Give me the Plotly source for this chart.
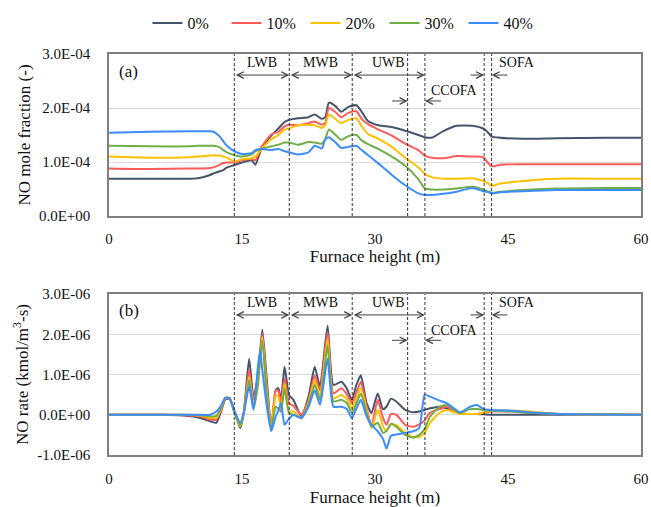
import plotly.graph_objects as go

# ---------------- data ----------------
SERIES = ["0%", "10%", "20%", "30%", "40%"]
COLORS = ["#44546A", "#FF5A5A", "#FFC000", "#70AD47", "#3C8CFF"]

# panel (a): NO mole fraction, values in units of 1E-04
X_A = [0, 4.6, 9.1, 10.0, 11.4, 11.8, 12.5, 12.9, 13.3, 14.1,
       15.0, 16.1, 16.5, 17.2, 18.3, 19.1, 19.8, 20.3, 21.3, 22.5,
       23.2, 24.0, 24.4, 24.8, 25.5, 26.2, 27.0, 27.9, 28.5, 29.2,
       30.4, 31.9, 33.4, 34.9, 35.6, 36.4, 37.7, 39.2, 41.0, 42.2,
       42.6, 43.2, 44.1, 46.7, 50.5, 56.1, 60]
NO_0 = [0.69, 0.69, 0.69, 0.70, 0.76, 0.79, 0.83, 0.85, 0.90, 0.94,
        0.99, 1.03, 0.95, 1.25, 1.49, 1.62, 1.74, 1.78, 1.81, 1.83,
        1.88, 1.80, 1.83, 2.10, 2.04, 1.93, 2.02, 2.05, 1.93, 1.76,
        1.68, 1.65, 1.58, 1.50, 1.46, 1.45, 1.57, 1.67, 1.67, 1.62,
        1.57, 1.47, 1.45, 1.43, 1.44, 1.45, 1.45]
NO_10 = [0.88, 0.87, 0.88, 0.88, 0.89, 0.90, 0.95, 0.98, 0.99, 0.99,
         1.03, 1.06, 1.03, 1.28, 1.51, 1.56, 1.66, 1.69, 1.68, 1.72,
         1.75, 1.69, 1.73, 2.00, 1.93, 1.83, 1.91, 1.94, 1.80, 1.70,
         1.60, 1.49, 1.34, 1.22, 1.12, 1.08, 1.07, 1.11, 1.10, 1.09,
         1.01, 0.92, 0.95, 0.96, 0.96, 0.96, 0.96]
NO_20 = [1.10, 1.08, 1.09, 1.10, 1.12, 1.12, 1.12, 1.10, 1.08, 1.01,
         1.05, 1.07, 1.10, 1.24, 1.42, 1.50, 1.60, 1.62, 1.68, 1.69,
         1.68, 1.63, 1.68, 1.88, 1.80, 1.72, 1.78, 1.81, 1.66, 1.52,
         1.43, 1.28, 1.08, 0.90, 0.78, 0.72, 0.69, 0.69, 0.70, 0.65,
         0.62, 0.56, 0.60, 0.65, 0.69, 0.69, 0.69]
NO_30 = [1.30, 1.29, 1.29, 1.30, 1.30, 1.30, 1.27, 1.22, 1.18, 1.13,
         1.10, 1.14, 1.20, 1.24, 1.29, 1.32, 1.36, 1.36, 1.32, 1.37,
         1.36, 1.34, 1.43, 1.60, 1.51, 1.41, 1.48, 1.50, 1.40, 1.33,
         1.24, 1.10, 0.93, 0.68, 0.51, 0.49, 0.49, 0.51, 0.54, 0.49,
         0.46, 0.43, 0.45, 0.48, 0.51, 0.52, 0.52]
NO_40 = [1.54, 1.56, 1.57, 1.57, 1.57, 1.56, 1.47, 1.38, 1.30, 1.20,
         1.15, 1.17, 1.22, 1.24, 1.22, 1.24, 1.20, 1.18, 1.14, 1.18,
         1.30, 1.25, 1.42, 1.46, 1.37, 1.26, 1.28, 1.30, 1.22, 1.13,
         0.97, 0.76, 0.57, 0.42, 0.39, 0.39, 0.41, 0.45, 0.52, 0.46,
         0.45, 0.42, 0.44, 0.46, 0.48, 0.48, 0.48]

# panel (b): NO rate, values in units of 1E-06
X_B = [0, 6.0, 8.4, 10.3, 11.4, 12.1, 12.7, 13.1, 13.6, 14.1,
       14.8, 15.2, 15.8, 16.3, 16.8, 17.05, 17.3, 17.8, 18.3, 18.8,
       19.1, 19.4, 19.8, 20.3, 20.8, 21.7, 22.5, 23.2, 23.8, 24.65,
       25.3, 26.2, 26.8, 27.4, 27.9, 28.4, 29.05, 29.6, 30.3, 30.9,
       31.3, 31.8, 32.4, 33.4, 34.3, 35.0, 35.6, 36.2, 37.3, 38.1,
       39.6, 40.7, 41.5, 42.3, 43.1, 45.6, 47.4, 50.8, 60]
RATE_0 = [0, 0, -0.02, -0.08, -0.16, -0.20, 0.12, 0.38, 0.40, 0.12,
          -0.33, 0.04, 1.39, 0.41, 1.0, 1.6, 2.11, 0.86, -0.37, 0.61,
          0.66, 0.37, 1.19, 0.49, 0.37, -0.04, 0.45, 1.19, 0.70, 2.21,
          0.74, 0.82, 0.66, 0.37, 0.74, 0.98, 0.29, 0.04, 0.53, 0.14,
          0.20, 0.40, 0.33, 0.12, 0.06, 0.08, 0.12, 0.16, 0.20, 0.16,
          0.04, 0.02, 0.02, 0.01, 0.0, 0, 0, 0, 0]
RATE_10 = [0, 0, -0.01, -0.04, -0.12, -0.12, 0.15, 0.40, 0.40, 0.12,
           -0.29, 0.05, 1.11, 0.37, 0.9, 1.5, 2.01, 0.70, -0.33, 0.60,
           0.60, 0.29, 0.90, 0.29, 0.22, 0.0, 0.35, 0.98, 0.61, 2.05,
           0.53, 0.66, 0.52, 0.29, 0.55, 0.82, 0.20, -0.29, 0.37, -0.08,
           -0.25, 0.02, 0.0, -0.25, -0.30, -0.24, -0.14, 0.05, 0.14, 0.20,
           0.04, 0.02, 0.02, 0.05, 0.08, 0.08, 0.05, 0.02, 0]
RATE_20 = [0, 0, 0, -0.02, -0.08, -0.08, 0.18, 0.42, 0.42, 0.08,
           -0.29, 0.05, 0.94, 0.20, 0.8, 1.4, 1.93, 0.53, -0.37, 0.49,
           0.45, 0.12, 0.78, 0.08, 0.08, -0.08, 0.30, 0.86, 0.45, 1.89,
           0.41, 0.49, 0.40, 0.16, 0.40, 0.66, 0.12, -0.33, 0.12, -0.29,
           -0.41, -0.25, -0.25, -0.45, -0.55, -0.55, -0.45, -0.20, 0.05, 0.12,
           0.02, 0.02, 0.02, 0.06, 0.10, 0.10, 0.08, 0.02, 0]
RATE_30 = [0, 0, 0, -0.01, -0.04, -0.03, 0.20, 0.42, 0.42, 0.08,
           -0.27, 0.05, 0.86, 0.16, 0.75, 1.4, 1.84, 0.45, -0.33, 0.20,
           0.15, 0.08, 0.66, 0.04, 0.0, -0.08, 0.25, 0.74, 0.37, 1.72,
           0.33, 0.37, 0.30, 0.04, 0.28, 0.53, 0.04, -0.29, -0.20, -0.45,
           -0.40, -0.22, -0.30, -0.50, -0.57, -0.50, -0.35, -0.05, 0.20, 0.25,
           0.04, 0.14, 0.14, 0.12, 0.10, 0.08, 0.05, 0.02, 0]
RATE_40 = [0, 0, 0, 0, 0, 0.08, 0.25, 0.42, 0.41, 0.12,
           -0.20, 0.05, 0.70, 0.12, 1.2, 1.60, 1.1, 0.20, -0.41, -0.04,
           0.10, 0.29, -0.25, -0.10, 0.0, -0.08, 0.20, 0.61, 0.25, 1.39,
           0.20, 0.20, 0.15, -0.08, 0.15, 0.37, -0.04, -0.25, -0.41, -0.60,
           -0.84, -0.52, -0.49, -0.45, -0.41, -0.33, 0.50, 0.45, 0.35, 0.29,
           0.06, 0.20, 0.24, 0.14, 0.12, 0.10, 0.06, 0.02, 0]

SCALE_A = 1e-4
SCALE_B = 1e-6

# zone boundaries (m)
BOUNDARIES = [14.13, 20.33, 27.43, 33.68, 35.63, 42.31, 43.15]
ZONES = [("LWB", 14.13, 20.33), ("MWB", 20.33, 27.43), ("UWB", 27.43, 35.63)]

X_TICKS = [0, 15, 30, 45, 60]
YA_TICKS = [0, 1e-4, 2e-4, 3e-4]
YA_LABELS = ["0.0E+00", "1.0E-04", "2.0E-04", "3.0E-04"]
YB_TICKS = [-1e-6, 0, 1e-6, 2e-6, 3e-6]
YB_LABELS = ["-1.0E-06", "0.0E+00", "1.0E-06", "2.0E-06", "3.0E-06"]

# ---------------- figure ----------------
FONT = "'Liberation Serif', 'Times New Roman', Times, serif"
W, H = 651, 507
M_L, M_R, M_T, M_B = 109, 10, 54, 52
plot_h = H - M_T - M_B
def pfrac(px_y):
    return (H - M_B - px_y) / plot_h

fig = go.Figure()
A_SERIES = [NO_0, NO_10, NO_20, NO_30, NO_40]
B_SERIES = [RATE_0, RATE_10, RATE_20, RATE_30, RATE_40]
for name, col, ya in zip(SERIES, COLORS, A_SERIES):
    fig.add_trace(go.Scatter(x=X_A, y=[v * SCALE_A for v in ya], mode="lines",
                             name=name, legendgroup=name,
                             line=dict(color=col, width=2, shape="spline", smoothing=0.6),
                             xaxis="x", yaxis="y"))
for name, col, yb in zip(SERIES, COLORS, B_SERIES):
    fig.add_trace(go.Scatter(x=X_B, y=[v * SCALE_B for v in yb], mode="lines",
                             name=name, legendgroup=name, showlegend=False,
                             line=dict(color=col, width=2, shape="spline", smoothing=0.5),
                             xaxis="x2", yaxis="y2"))

dom_a = [pfrac(216), 1.0]
dom_b = [0.0, pfrac(294)]

axis_common = dict(showline=True, mirror=True, linecolor="#7F7F7F", linewidth=1.5,
                   ticks="", tickfont=dict(family=FONT, size=15, color="#111"),
                   zeroline=False, automargin=False)
fig.update_layout(
    width=W, height=H, margin=dict(l=M_L, r=M_R, t=M_T, b=M_B, autoexpand=False),
    paper_bgcolor="white", plot_bgcolor="white",
    font=dict(family=FONT, size=15, color="#111"),
    xaxis=dict(domain=[0, 1], anchor="y", range=[0, 60], tickvals=X_TICKS,
               showgrid=False, ticklabelstandoff=8,
               title=dict(text="Furnace height (m)", font=dict(family=FONT, size=17), standoff=4),
               **axis_common),
    yaxis=dict(domain=dom_a, anchor="x", range=[0, 3e-4], tickvals=YA_TICKS, ticktext=YA_LABELS,
               showgrid=True, gridcolor="#D9D9D9", gridwidth=1, ticklabelstandoff=14,
               title=dict(text="NO mole fraction (-)", font=dict(family=FONT, size=17), standoff=4),
               **axis_common),
    xaxis2=dict(domain=[0, 1], anchor="y2", range=[0, 60], tickvals=X_TICKS,
                showgrid=False, ticklabelstandoff=9,
                title=dict(text="Furnace height (m)", font=dict(family=FONT, size=17), standoff=6),
                **axis_common),
    yaxis2=dict(domain=dom_b, anchor="x2", range=[-1e-6, 3e-6], tickvals=YB_TICKS, ticktext=YB_LABELS,
                showgrid=True, gridcolor="#D9D9D9", gridwidth=1, ticklabelstandoff=14,
                title=dict(text="NO rate (kmol/m<sup>3</sup>-s)", font=dict(family=FONT, size=17), standoff=4),
                **axis_common),
    legend=dict(orientation="h", x=(345 - M_L) / (W - M_L - M_R), xanchor="center",
                y=pfrac(23), yanchor="middle", font=dict(family=FONT, size=16, color="#111"),
                bgcolor="rgba(0,0,0,0)", entrywidth=34, entrywidthmode="pixels"),
    showlegend=True,
)

shapes = []
for xr, yr in (("x", "y"), ("x2", "y2")):
    for b in BOUNDARIES:
        shapes.append(dict(type="line", xref=xr, yref=yr + " domain", x0=b, x1=b, y0=0, y1=1,
                           line=dict(color="#333", width=1, dash="3px,2px")))
fig.update_layout(shapes=shapes)

ARROW_COL = "#404040"
def arrow(xr, yr, x_tail, x_head, yv, both=False):
    fig.add_annotation(x=x_head, y=yv, ax=x_tail, ay=yv, xref=xr, yref=yr, axref=xr, ayref=yr,
                       text="", showarrow=True, arrowhead=5, arrowsize=1.3, arrowwidth=1,
                       arrowcolor=ARROW_COL, arrowside="end+start" if both else "end",
                       startarrowhead=5, startarrowsize=1.3)

def label(xr, yr, x, y, txt, size=14):
    fig.add_annotation(x=x, y=y, xref=xr, yref=yr, text=txt, showarrow=False,
                       font=dict(family=FONT, size=size, color="#111"))

for xr, yr, sc, tag, y_txt, y_arr, y_cct, y_cca, y_tag in (
        ("x", "y", 1e-4, "(a)", 2.85, 2.61, 2.33, 2.13, 2.68),
        ("x2", "y2", 1e-6, "(b)", 2.80, 2.48, 2.09, 1.85, 2.59)):
    label(xr, yr, 2.2, y_tag * sc, tag, size=17)
    for name, x0, x1 in ZONES:
        arrow(xr, yr, x0, x1, y_arr * sc, both=True)
        label(xr, yr, (x0 + x1) / 2, y_txt * sc, name)
    arrow(xr, yr, 31.75, BOUNDARIES[3], y_cca * sc)
    arrow(xr, yr, 37.6, BOUNDARIES[4], y_cca * sc)
    label(xr, yr, 39.0, y_cct * sc, "CCOFA")
    arrow(xr, yr, 40.6, BOUNDARIES[5], y_arr * sc)
    arrow(xr, yr, 45.1, BOUNDARIES[6], y_arr * sc)
    label(xr, yr, 46.0, y_txt * sc, "SOFA")

fig.write_html("out.html")
